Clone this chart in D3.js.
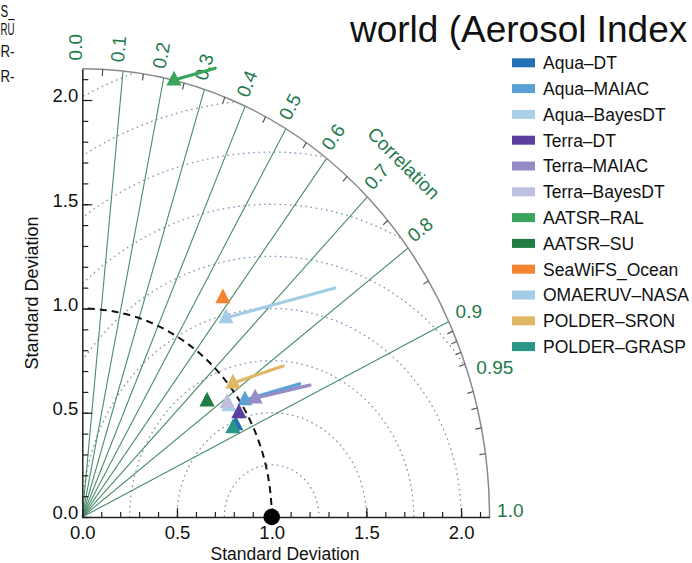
<!DOCTYPE html>
<html>
<head>
<meta charset="utf-8">
<script src="https://cdn.jsdelivr.net/npm/d3@7"></script>
<style>
  html, body { margin: 0; padding: 0; background: #fff; }
  svg { display: block; font-family: "Liberation Sans", Arial, Helvetica, sans-serif; }
</style>
</head>
<body>
<svg id="chart" width="692" height="563"></svg>
<script>
// Products shown on the Taylor diagram (legend order = drawing order)
const products = ["Aqua–DT", "Aqua–MAIAC", "Aqua–BayesDT", "Terra–DT", "Terra–MAIAC", "Terra–BayesDT",
                  "AATSR–RAL", "AATSR–SU", "SeaWiFS_Ocean", "OMAERUV–NASA", "POLDER–SRON", "POLDER–GRASP"];
const colors = ["#2470b6", "#5aa2d6", "#a9d0e8", "#5b3f9c", "#958cc6", "#bfc0e0",
                "#38a55a", "#1f7c42", "#f5832f", "#a3cde6", "#e0b865", "#2b9587"];
// Normalised standard deviation and correlation of each product
const stdDev = [0.923, 1.026, 0.940, 0.966, 1.076, 0.940, 2.151, 0.862, 1.287, 1.220, 1.023, 0.903];
const corr   = [0.878, 0.837, 0.824, 0.856, 0.848, 0.813, 0.225, 0.764, 0.577, 0.622, 0.778, 0.881];
// Other end of the trail line for products that have one (null = no trail)
const tailStd  = [null, 1.314, null, null, 1.358, null, 2.264, null, null, 1.728, 1.284, null];
const tailCorr = [null, 0.874, null, null, 0.885, null, 0.310, null, null, 0.772, 0.826, null];

// Axis ticks
const stdMajor = [0, 0.5, 1.0, 1.5, 2.0];
const stdMinor = d3.range(0, 22).map(i => i / 10);
const corrLines = [0.1, 0.2, 0.3, 0.4, 0.5, 0.6, 0.7, 0.8, 0.9];
const corrLabels = [0.0, 0.1, 0.2, 0.3, 0.4, 0.5, 0.6, 0.7, 0.8, 0.9, 0.95, 1.0];
const corrMinor = [0.05, 0.15, 0.25, 0.35, 0.45, 0.55, 0.65, 0.75, 0.85,
                   0.91, 0.92, 0.93, 0.94, 0.96, 0.97, 0.98, 0.99];
const rmsRadii = [0.25, 0.5, 0.75, 1.0, 1.25, 1.5, 1.75, 2.0, 2.25];
const refStd = 1.0;
const maxStd = 2.15;

// Neighbouring legend text at the left edge
const sideLegend = ["S_", "RU", "R-", "R-"];

const svg = d3.select("#chart");
const font = "'Liberation Sans', Arial, Helvetica, sans-serif";
const green = "#1f7a4c";

const x = d3.scaleLinear().domain([0, maxStd]).range([82.3, 82.3 + maxStd * 189.4]);
const y = d3.scaleLinear().domain([0, maxStd]).range([517, 517 - maxStd * 208.5]);
const px = (s, c) => x(s * c);
const py = (s, c) => y(s * Math.sqrt(Math.max(0, 1 - c * c)));
const rx = r => x(r) - x(0);
const ry = r => y(0) - y(r);

// Quarter-disc clip region
svg.append("defs").append("clipPath").attr("id", "quarter")
  .append("path")
  .attr("d", `M${x(0)},${y(0)} L${x(maxStd)},${y(0)} A${rx(maxStd)},${ry(maxStd)} 0 0 0 ${x(0)},${y(maxStd)} Z`);

// Neighbour legend fragment
svg.append("g")
  .selectAll("text").data(sideLegend).join("text")
  .attr("x", 0.5).attr("y", (d, i) => [17, 35, 57, 81.5][i])
  .attr("font-size", 16).attr("textLength", 14).attr("lengthAdjust", "spacingAndGlyphs")
  .attr("fill", "#111").text(d => d);

// Centred RMS difference arcs
svg.append("g").attr("clip-path", "url(#quarter)")
  .selectAll("ellipse").data(rmsRadii).join("ellipse")
  .attr("cx", x(refStd)).attr("cy", y(0))
  .attr("rx", d => rx(d)).attr("ry", d => ry(d))
  .attr("fill", "none").attr("stroke", "#7f95bb").attr("stroke-width", 1.3)
  .attr("stroke-dasharray", "1.6,3.6");

// Correlation rays
svg.append("g").selectAll("line").data(corrLines).join("line")
  .attr("x1", x(0)).attr("y1", y(0))
  .attr("x2", d => px(maxStd, d)).attr("y2", d => py(maxStd, d))
  .attr("stroke", "#4a8c69").attr("stroke-width", 1.1);

// Reference standard deviation arc
svg.append("path")
  .attr("d", `M${x(refStd)},${y(0)} A${rx(refStd)},${ry(refStd)} 0 0 0 ${x(0)},${y(refStd)}`)
  .attr("fill", "none").attr("stroke", "#111").attr("stroke-width", 2)
  .attr("stroke-dasharray", "7,5");

// Outer correlation arc with minor ticks
svg.append("path")
  .attr("d", `M${x(maxStd)},${y(0)} A${rx(maxStd)},${ry(maxStd)} 0 0 0 ${x(0)},${y(maxStd)}`)
  .attr("fill", "none").attr("stroke", "#8a8a8a").attr("stroke-width", 1.5);
svg.append("g").selectAll("line").data(corrMinor).join("line")
  .attr("x1", d => px(maxStd, d)).attr("y1", d => py(maxStd, d))
  .attr("x2", d => px(maxStd - 0.032, d)).attr("y2", d => py(maxStd - 0.032, d))
  .attr("stroke", "#555").attr("stroke-width", 1.2);

// Standard deviation axes
const xAxis = svg.append("g").attr("transform", `translate(0,${y(0)})`)
  .call(d3.axisBottom(x).tickValues(stdMajor).tickSize(-9).tickSizeOuter(0).tickPadding(9)
    .tickFormat(d3.format(".1f")));
svg.append("g").attr("transform", `translate(0,${y(0)})`)
  .call(d3.axisBottom(x).tickValues(stdMinor).tickSize(-5).tickSizeOuter(0).tickFormat(""))
  .call(g => g.select(".domain").remove());
const yAxis = svg.append("g").attr("transform", `translate(${x(0)},0)`)
  .call(d3.axisLeft(y).tickValues(stdMajor).tickSize(-10).tickSizeOuter(0).tickPadding(4)
    .tickFormat(d3.format(".1f")));
svg.append("g").attr("transform", `translate(${x(0)},0)`)
  .call(d3.axisLeft(y).tickValues(stdMinor).tickSize(-6).tickSizeOuter(0).tickFormat(""))
  .call(g => g.select(".domain").remove());
[xAxis, yAxis].forEach(g => {
  g.select(".domain").attr("stroke", "#222").attr("stroke-width", 1.5);
  g.selectAll(".tick text").attr("font-size", 18.5).attr("font-family", font).attr("fill", "#111");
});
svg.selectAll("g.tick line").attr("stroke", "#222").attr("stroke-width", 1.2);
yAxis.selectAll(".tick text").attr("dy", "0.1em");

svg.append("text").attr("x", 285).attr("y", 560).attr("text-anchor", "middle")
  .attr("font-size", 17.5).attr("fill", "#111").text("Standard Deviation");
svg.append("text").attr("transform", "translate(38,293) rotate(-90)").attr("text-anchor", "middle")
  .attr("font-size", 18).attr("fill", "#111").text("Standard Deviation");

// Correlation labels
const labR = 2.19;
svg.append("g").selectAll("text").data(corrLabels).join("text")
  .attr("transform", d => {
    const ang = Math.atan2(ry(labR * Math.sqrt(1 - d * d)), rx(labR * d)) * 180 / Math.PI;
    const rot = d >= 0.9 ? 0 : -ang;
    return `translate(${px(labR, d)},${py(labR, d)}) rotate(${rot})`;
  })
  .attr("font-size", 19).attr("fill", green)
  .text(d => d === 0.95 ? "0.95" : d3.format(".1f")(d));
svg.append("text")
  .attr("transform", `translate(${px(2.4, Math.SQRT1_2)},${py(2.4, Math.SQRT1_2)}) rotate(45)`)
  .attr("text-anchor", "middle").attr("dy", "0.35em")
  .attr("font-size", 19).attr("fill", green).text("Correlation");

// Reference point
svg.append("circle").attr("cx", x(refStd)).attr("cy", y(0)).attr("r", 8.3).attr("fill", "#000");

// Trails then markers
const idx = d3.range(products.length);
svg.append("g").selectAll("line").data(idx.filter(i => tailStd[i] !== null)).join("line")
  .attr("x1", i => px(stdDev[i], corr[i])).attr("y1", i => py(stdDev[i], corr[i]))
  .attr("x2", i => px(tailStd[i], tailCorr[i])).attr("y2", i => py(tailStd[i], tailCorr[i]))
  .attr("stroke", i => colors[i]).attr("stroke-width", 3.2).attr("stroke-linecap", "round");
const tri = d3.symbol().type(d3.symbolTriangle).size(100);
svg.append("g").selectAll("path").data(idx).join("path")
  .attr("d", tri)
  .attr("transform", i => `translate(${px(stdDev[i], corr[i])},${py(stdDev[i], corr[i]) + 0.5}) scale(1,1.12)`)
  .attr("fill", i => colors[i]);

// Title
svg.append("text").attr("x", 350).attr("y", 42).attr("font-size", 37).attr("fill", "#111")
  .text("world (Aerosol Index");

// Legend
const leg = svg.append("g");
leg.selectAll("rect").data(idx).join("rect")
  .attr("x", 512).attr("y", i => 62.8 + i * 25.8 - 4.5).attr("width", 23).attr("height", 9)
  .attr("fill", i => colors[i]);
leg.selectAll("text").data(idx).join("text")
  .attr("x", 543).attr("y", i => 62.8 + i * 25.8).attr("dy", "0.36em")
  .attr("font-size", 17.5).attr("fill", "#111").text(i => products[i]);
</script>
</body>
</html>
